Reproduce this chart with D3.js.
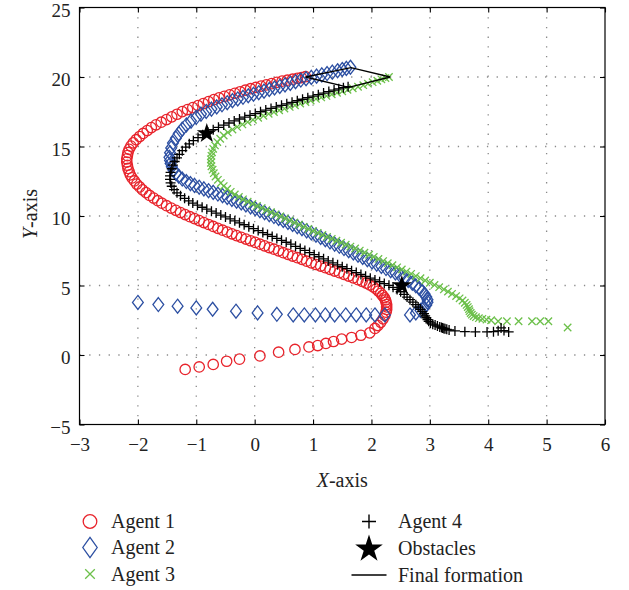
<!DOCTYPE html>
<html>
<head>
<meta charset="utf-8">
<script src="https://cdn.jsdelivr.net/npm/d3@7"></script>
<style>
  body { margin: 0; background: #fff; }
  svg text { font-family: "Liberation Serif", "Times New Roman", serif; fill: #222; }
</style>
</head>
<body>
<svg id="chart" width="629" height="590"></svg>
<script>
// Agent trajectories, [x, y] per sampled time step
const agent1 = [[-1.19,-1.04],[-0.95,-0.86],[-0.71,-0.68],[-0.48,-0.45],[-0.26,-0.30],[0.09,-0.07],[0.41,0.20],[0.69,0.40],[0.93,0.58],[1.08,0.68],[1.22,0.83],[1.35,0.97],[1.49,1.14],[1.66,1.26],[1.82,1.42],[1.97,1.59],[2.06,1.91],
[2.11,2.12],[2.16,2.35],[2.2,2.6],[2.23,2.85],[2.25,3.08],[2.26,3.28],[2.26,3.46],[2.26,3.63],[2.25,3.8],[2.24,3.96],[2.22,4.12],[2.19,4.28],[2.16,4.44],[2.12,4.6],[2.08,4.75],[2.03,4.9],[1.97,5.04],[1.91,5.17],[1.84,5.3],[1.77,5.42],[1.69,5.55],[1.61,5.68],[1.53,5.8],[1.45,5.92],[1.37,6.04],[1.29,6.16],[1.21,6.28],[1.13,6.4],[1.05,6.51],[0.97,6.63],[0.89,6.75],[0.81,6.88],[0.73,7.0],[0.65,7.12],[0.57,7.24],[0.49,7.36],[0.41,7.49],[0.33,7.61],[0.25,7.73],[0.17,7.85],[0.09,7.97],[0.01,8.1],[-0.07,8.22],[-0.15,8.34],[-0.23,8.47],[-0.31,8.59],[-0.39,8.72],[-0.47,8.85],[-0.55,8.98],[-0.63,9.11],[-0.71,9.25],[-0.79,9.39],[-0.87,9.53],[-0.95,9.67],[-1.03,9.81],[-1.11,9.95],[-1.19,10.1],[-1.27,10.25],[-1.35,10.41],[-1.43,10.57],[-1.51,10.74],[-1.59,10.92],[-1.66,11.1],[-1.73,11.29],[-1.8,11.48],[-1.86,11.68],[-1.92,11.88],[-1.97,12.09],[-2.02,12.3],[-2.06,12.52],[-2.1,12.74],[-2.13,12.96],[-2.15,13.19],[-2.17,13.42],[-2.18,13.65],[-2.19,13.88],[-2.19,14.11],[-2.18,14.34],[-2.17,14.57],[-2.15,14.8],[-2.12,15.03],[-2.08,15.26],[-2.03,15.49],[-1.97,15.72],[-1.91,15.94],[-1.84,16.15],[-1.77,16.36],[-1.69,16.56],[-1.6,16.75],[-1.51,16.94],[-1.42,17.13],[-1.33,17.32],[-1.24,17.51],[-1.15,17.66],[-1.06,17.8],[-0.97,17.94],[-0.88,18.09],[-0.79,18.23],[-0.7,18.37],[-0.61,18.5],[-0.52,18.61],[-0.43,18.72],[-0.34,18.83],[-0.25,18.94],[-0.16,19.05],[-0.07,19.16],[0.02,19.25],[0.11,19.34],[0.2,19.43],[0.29,19.52],[0.38,19.61],[0.47,19.7],[0.56,19.77],[0.65,19.84],[0.73,19.9],[0.8,19.96],[0.87,20.02]];

const agent2 = [[-2.0,3.78],[-1.65,3.63],[-1.32,3.51],[-1.0,3.39],[-0.72,3.29],[-0.32,3.15],[0.05,3.03],[0.38,2.93],[0.66,2.88],[0.85,2.88],[1.04,2.88],[1.21,2.88],[1.37,2.88],[1.56,2.88],[1.74,2.88],[1.91,2.88],[2.06,2.88],[2.23,2.88],[2.66,2.88],
[2.76,3.02],[2.84,3.2],[2.9,3.4],[2.94,3.6],[2.96,3.8],[2.96,3.98],[2.94,4.18],[2.91,4.38],[2.87,4.58],[2.82,4.78],[2.76,4.98],[2.7,5.17],[2.63,5.36],[2.56,5.55],[2.49,5.73],[2.41,5.9],[2.33,6.06],[2.25,6.22],[2.17,6.38],[2.09,6.54],[2.01,6.7],[1.93,6.86],[1.85,7.02],[1.77,7.18],[1.69,7.34],[1.61,7.5],[1.53,7.66],[1.45,7.82],[1.37,7.98],[1.29,8.14],[1.21,8.3],[1.13,8.46],[1.05,8.62],[0.97,8.78],[0.89,8.93],[0.81,9.09],[0.73,9.24],[0.65,9.39],[0.57,9.54],[0.49,9.68],[0.41,9.82],[0.33,9.96],[0.25,10.1],[0.17,10.24],[0.09,10.38],[0.01,10.52],[-0.07,10.66],[-0.15,10.8],[-0.23,10.94],[-0.31,11.07],[-0.39,11.2],[-0.47,11.33],[-0.55,11.46],[-0.63,11.58],[-0.71,11.7],[-0.79,11.82],[-0.87,11.95],[-0.95,12.07],[-1.03,12.2],[-1.1,12.33],[-1.17,12.48],[-1.24,12.66],[-1.3,12.86],[-1.35,13.07],[-1.39,13.3],[-1.42,13.54],[-1.44,13.78],[-1.45,14.0],[-1.46,14.22],[-1.45,14.55],[-1.43,14.9],[-1.4,15.25],[-1.35,15.6],[-1.3,15.93],[-1.24,16.25],[-1.17,16.55],[-1.09,16.83],[-1.0,17.1],[-0.92,17.33],[-0.83,17.52],[-0.74,17.69],[-0.65,17.85],[-0.56,18.0],[-0.47,18.15],[-0.38,18.3],[-0.29,18.42],[-0.2,18.54],[-0.11,18.65],[-0.02,18.76],[0.07,18.87],[0.16,18.98],[0.25,19.1],[0.34,19.21],[0.43,19.32],[0.52,19.43],[0.61,19.54],[0.7,19.66],[0.79,19.78],[0.88,19.88],[0.97,19.97],[1.06,20.06],[1.15,20.15],[1.24,20.25],[1.33,20.35],[1.42,20.45],[1.5,20.54],[1.57,20.62],[1.64,20.7]];

const agent3 = [[5.36,1.98],[5.03,2.43],[4.89,2.43],[4.75,2.43],[4.52,2.43],[4.32,2.43],[4.17,2.43],[4.05,2.5],[3.97,2.55],[3.9,2.6],[3.84,2.65],[3.79,2.72],[3.75,2.8],[3.72,2.9],[3.7,3.02],[3.68,3.15],[3.67,3.3],[3.65,3.45],[3.63,3.6],[3.6,3.76],[3.56,3.92],[3.51,4.08],[3.45,4.24],[3.38,4.4],[3.31,4.56],[3.24,4.72],[3.16,4.88],[3.08,5.04],[3.0,5.2],[2.92,5.36],[2.84,5.52],[2.76,5.68],[2.68,5.84],[2.6,6.0],[2.52,6.16],[2.44,6.31],[2.36,6.46],[2.28,6.61],[2.2,6.76],[2.12,6.91],[2.04,7.06],[1.96,7.21],[1.88,7.36],[1.8,7.51],[1.72,7.66],[1.64,7.8],[1.56,7.94],[1.48,8.08],[1.4,8.22],[1.32,8.36],[1.24,8.5],[1.16,8.64],[1.08,8.78],[1.0,8.92],[0.92,9.07],[0.84,9.22],[0.76,9.37],[0.68,9.52],[0.6,9.67],[0.52,9.82],[0.44,9.97],[0.36,10.12],[0.28,10.27],[0.2,10.42],[0.12,10.57],[0.04,10.72],[-0.04,10.87],[-0.12,11.03],[-0.2,11.2],[-0.27,11.37],[-0.34,11.55],[-0.41,11.74],[-0.47,11.94],[-0.53,12.15],[-0.58,12.37],[-0.63,12.6],[-0.67,12.84],[-0.7,13.08],[-0.72,13.33],[-0.74,13.58],[-0.75,13.83],[-0.75,14.08],[-0.74,14.33],[-0.73,14.58],[-0.71,14.83],[-0.68,15.08],[-0.64,15.32],[-0.59,15.56],[-0.53,15.79],[-0.46,16.01],[-0.38,16.22],[-0.3,16.41],[-0.21,16.59],[-0.12,16.76],[-0.03,16.92],[0.06,17.07],[0.15,17.21],[0.24,17.35],[0.33,17.48],[0.42,17.61],[0.51,17.73],[0.6,17.85],[0.69,17.97],[0.78,18.09],[0.87,18.2],[0.96,18.31],[1.05,18.42],[1.14,18.53],[1.23,18.64],[1.32,18.75],[1.41,18.86],[1.5,18.97],[1.59,19.08],[1.68,19.19],[1.77,19.3],[1.86,19.41],[1.94,19.52],[2.02,19.63],[2.1,19.73],[2.17,19.83],[2.24,19.92],[2.3,20.0]];

const agent4 = [[4.35,1.66],[4.27,1.76],[4.22,1.95],[4.17,1.74],[4.09,1.68],[3.98,1.66],[3.78,1.66],[3.6,1.68],[3.43,1.73],[3.33,1.8],[3.29,1.85],[3.26,1.88],[3.24,1.91],[3.22,1.94],[3.2,1.97],[3.17,2.02],[3.13,2.08],[3.09,2.15],[3.05,2.22],[3.01,2.31],[2.98,2.42],[2.96,2.55],[2.94,2.68],[2.92,2.82],[2.9,2.97],[2.87,3.12],[2.84,3.28],[2.8,3.45],[2.76,3.62],[2.71,3.8],[2.66,3.98],[2.61,4.17],[2.56,4.36],[2.5,4.55],[2.44,4.72],[2.37,4.87],[2.3,5.01],[2.22,5.14],[2.14,5.27],[2.06,5.4],[1.98,5.53],[1.9,5.66],[1.82,5.79],[1.74,5.93],[1.66,6.07],[1.58,6.21],[1.5,6.35],[1.42,6.49],[1.34,6.63],[1.26,6.77],[1.18,6.92],[1.1,7.07],[1.02,7.22],[0.94,7.37],[0.86,7.52],[0.78,7.67],[0.7,7.82],[0.62,7.97],[0.54,8.11],[0.46,8.25],[0.38,8.39],[0.3,8.53],[0.22,8.67],[0.14,8.81],[0.06,8.95],[-0.02,9.09],[-0.1,9.23],[-0.18,9.37],[-0.26,9.51],[-0.34,9.65],[-0.42,9.79],[-0.5,9.93],[-0.58,10.07],[-0.66,10.21],[-0.74,10.35],[-0.82,10.49],[-0.9,10.63],[-0.98,10.78],[-1.06,10.93],[-1.13,11.09],[-1.2,11.27],[-1.27,11.46],[-1.33,11.67],[-1.38,11.9],[-1.42,12.14],[-1.44,12.39],[-1.45,12.64],[-1.45,12.89],[-1.44,13.14],[-1.42,13.4],[-1.4,13.66],[-1.37,13.92],[-1.33,14.18],[-1.29,14.44],[-1.24,14.7],[-1.18,14.95],[-1.12,15.19],[-1.05,15.42],[-0.97,15.64],[-0.89,15.84],[-0.8,16.03],[-0.71,16.21],[-0.62,16.38],[-0.53,16.54],[-0.44,16.69],[-0.35,16.84],[-0.26,16.98],[-0.17,17.11],[-0.08,17.24],[0.01,17.37],[0.1,17.5],[0.19,17.62],[0.28,17.74],[0.37,17.85],[0.46,17.96],[0.55,18.07],[0.64,18.18],[0.73,18.29],[0.82,18.4],[0.91,18.51],[1.0,18.62],[1.09,18.73],[1.18,18.84],[1.27,18.95],[1.36,19.06],[1.44,19.15],[1.52,19.23],[1.6,19.3]];

// Obstacle centres and the closed final formation polygon
const obstacles = [[-0.82,15.93],[2.52,5.0]];
const formation = [[0.87,20.0],[1.65,20.68],[2.32,20.0],[1.61,19.26],[0.87,20.0]];

// Axis ticks
const xTicks = [-3,-2,-1,0,1,2,3,4,5,6];
const yTicks = [-5,0,5,10,15,20,25];

const labels = ["Agent 1","Agent 2","Agent 3","Agent 4","Obstacles","Final formation"];

const svg = d3.select("#chart");
const box = {left: 79.5, right: 605, top: 7.5, bottom: 424.5};
const x = d3.scaleLinear().domain([-3, 6]).range([box.left, box.right]);
const y = d3.scaleLinear().domain([-5, 25]).range([box.bottom, box.top]);

const RED = "#e8232b", BLUE = "#2c4fa2", GREEN = "#6cc04a", BLACK = "#000";

// Dotted grid
const grid = svg.append("g").attr("stroke", "#8a8a8a").attr("stroke-width", 1.3)
  .attr("stroke-dasharray", "1.3,8.4");
grid.selectAll("line.gx").data(xTicks.slice(1, -1)).join("line")
  .attr("x1", d => x(d)).attr("x2", d => x(d)).attr("y1", box.top).attr("y2", box.bottom);
grid.selectAll("line.gy").data(yTicks.slice(1, -1)).join("line")
  .attr("y1", d => y(d)).attr("y2", d => y(d)).attr("x1", box.left).attr("x2", box.right);

// Axes with inward ticks on all four sides
const fmt = d3.format("d");
const axB = svg.append("g").attr("transform", `translate(0,${box.bottom})`)
  .call(d3.axisBottom(x).tickValues(xTicks).tickSize(-5).tickPadding(13).tickFormat(fmt));
const axL = svg.append("g").attr("transform", `translate(${box.left},0)`)
  .call(d3.axisLeft(y).tickValues(yTicks).tickSize(-5).tickPadding(9).tickFormat(fmt));
const axT = svg.append("g").attr("transform", `translate(0,${box.top})`)
  .call(d3.axisTop(x).tickValues(xTicks).tickSize(-5).tickFormat(""));
const axR = svg.append("g").attr("transform", `translate(${box.right},0)`)
  .call(d3.axisRight(y).tickValues(yTicks).tickSize(-5).tickFormat(""));
[axB, axL, axT, axR].forEach(a => {
  a.select(".domain").remove();
  a.selectAll(".tick line").attr("stroke", "#000").attr("stroke-width", 1.1);
  a.selectAll("text").attr("font-size", 19).attr("font-family", '"Liberation Serif", serif').attr("fill", "#222");
});
axL.selectAll("text").attr("dy", "0.45em");
svg.append("rect").attr("x", box.left).attr("y", box.top)
  .attr("width", box.right - box.left).attr("height", box.bottom - box.top)
  .attr("fill", "none").attr("stroke", "#000").attr("stroke-width", 1.2);

// Marker shapes
const diamond = (hw, hh) => `M0,${-hh}L${hw},0L0,${hh}L${-hw},0Z`;
const cross = h => `M${-h},${-h}L${h},${h}M${-h},${h}L${h},${-h}`;
const plus = h => `M${-h},0H${h}M0,${-h}V${h}`;
const star = R => d3.symbol(d3.symbolStar, R * R / 0.8908130915292852)();

const marks = [
  {data: agent1, path: null, color: RED},
  {data: agent2, path: diamond(5.4, 7), color: BLUE},
  {data: agent3, path: cross(3.7), color: GREEN},
  {data: agent4, path: plus(5), color: BLACK}
];
const plot = svg.append("g");
marks.forEach((m, i) => {
  const g = plot.append("g").attr("fill", "none").attr("stroke", m.color).attr("stroke-width", 1.3);
  if (m.path === null) {
    g.selectAll("circle").data(m.data).join("circle")
      .attr("cx", d => x(d[0])).attr("cy", d => y(d[1])).attr("r", 5.2);
  } else {
    g.selectAll("path").data(m.data).join("path")
      .attr("d", m.path)
      .attr("transform", d => `translate(${x(d[0])},${y(d[1])})`);
  }
});
plot.append("g").selectAll("path").data(obstacles).join("path")
  .attr("d", star(10.5)).attr("fill", "#000")
  .attr("transform", d => `translate(${x(d[0])},${y(d[1])})`);
plot.append("path").datum(formation)
  .attr("d", d3.line().x(d => x(d[0])).y(d => y(d[1])))
  .attr("fill", "none").attr("stroke", "#000").attr("stroke-width", 1.3);

// Axis titles
const xt = svg.append("text").attr("x", (box.left + box.right) / 2).attr("y", 487)
  .attr("text-anchor", "middle").attr("font-size", 20);
xt.append("tspan").attr("font-style", "italic").text("X");
xt.append("tspan").text("-axis");
const yt = svg.append("text").attr("transform", "translate(37,214) rotate(-90)")
  .attr("text-anchor", "middle").attr("font-size", 20);
yt.append("tspan").attr("font-style", "italic").text("Y");
yt.append("tspan").text("-axis");

// Legend
const legend = svg.append("g");
const items = [
  {mx: 90, my: 521.5, kind: "circle", color: RED},
  {mx: 90, my: 547.5, kind: "diamond", color: BLUE},
  {mx: 90, my: 574, kind: "cross", color: GREEN},
  {mx: 369, my: 521.5, kind: "plus", color: BLACK},
  {mx: 369, my: 548, kind: "star", color: BLACK},
  {mx: 369, my: 575, kind: "line", color: BLACK}
];
items.forEach((it, i) => {
  const g = legend.append("g").attr("transform", `translate(${it.mx},${it.my})`);
  if (it.kind === "circle") g.append("circle").attr("r", 6.8).attr("fill", "none").attr("stroke", it.color).attr("stroke-width", 1.3);
  if (it.kind === "diamond") g.append("path").attr("d", diamond(7.2, 10.2)).attr("fill", "none").attr("stroke", it.color).attr("stroke-width", 1.3);
  if (it.kind === "cross") g.append("path").attr("d", cross(4.8)).attr("stroke", it.color).attr("stroke-width", 1.3);
  if (it.kind === "plus") g.append("path").attr("d", plus(7)).attr("stroke", it.color).attr("stroke-width", 1.4);
  if (it.kind === "star") g.append("path").attr("d", star(14.5)).attr("fill", it.color).attr("transform", "translate(0,1)");
  if (it.kind === "line") g.append("line").attr("x1", -17.5).attr("x2", 17.5).attr("stroke", it.color).attr("stroke-width", 1.5);
  legend.append("text").attr("x", it.mx + (i < 3 ? 21 : 29)).attr("y", it.my + 6.5)
    .attr("font-size", 20).text(labels[i]);
});
</script>
</body>
</html>
